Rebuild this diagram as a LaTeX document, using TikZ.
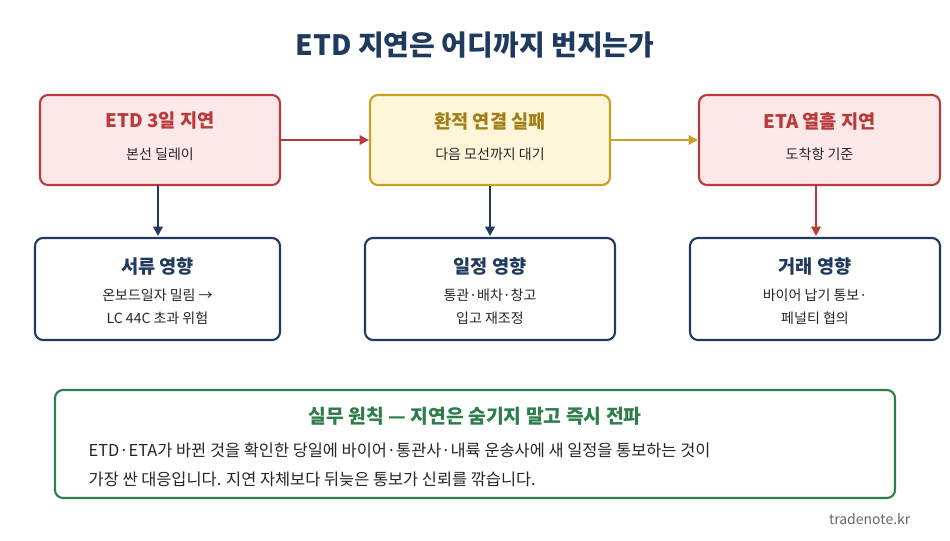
\documentclass[tikz,border=0pt]{standalone}
\usepackage{fontspec}
\setmainfont{Noto Sans CJK KR}
\usetikzlibrary{arrows.meta}
\definecolor{navy}{HTML}{1F3A5F}
\definecolor{redc}{HTML}{B83A3A}
\definecolor{redf}{HTML}{FCE8E8}
\definecolor{gold}{HTML}{C9A020}
\definecolor{goldf}{HTML}{FFF6DA}
\definecolor{greenc}{HTML}{2E7D4A}
\definecolor{greyt}{HTML}{666666}
\begin{document}
\begin{tikzpicture}[x=0.75pt,y=-0.75pt,
 box/.style={draw,line width=1.6pt,rounded corners=6pt,align=center,inner sep=0},
 ttl/.style={font=\fontsize{14}{16}\selectfont\bfseries},
 sub/.style={font=\fontsize{10.5}{17}\selectfont,text=black!85,align=center},
 arr/.style={line width=2pt,-{Triangle[length=7pt,width=7pt]}}]
\useasboundingbox (0,0) rectangle (950,540);
\node[font=\fontsize{21}{24}\selectfont\bfseries,text=navy] (t) at (475,45) {ETD 지연은 어디까지 번지는가};
% top boxes
\node[box,draw=redc,fill=redf,minimum width=240*0.75pt,minimum height=90*0.75pt] (a) at (160,140) {};
\node[ttl,text=redc] (a1) at (160,121) {ETD 3일 지연};
\node[sub] (a2) at (160,154) {본선 딜레이};
\node[box,draw=gold,fill=goldf,minimum width=240*0.75pt,minimum height=90*0.75pt] (b) at (490,140) {};
\node[ttl,text=gold!80!black] (b1) at (490,121) {환적 연결 실패};
\node[sub] (b2) at (490,154) {다음 모선까지 대기};
\node[box,draw=redc,fill=redf,minimum width=241*0.75pt,minimum height=90*0.75pt] (c) at (819.5,140) {};
\node[ttl,text=redc] (c1) at (819.5,121) {ETA 열흘 지연};
\node[sub] (c2) at (819.5,154) {도착항 기준};
% bottom boxes
\node[box,draw=navy,fill=white,minimum width=245*0.75pt,minimum height=102*0.75pt] (d) at (157.5,289) {};
\node[ttl,text=navy] (d1) at (157.5,266) {서류 영향};
\node[sub] (d2) at (157.5,307) {온보드일자 밀림 →\\LC 44C 초과 위험};
\node[box,draw=navy,fill=white,minimum width=250*0.75pt,minimum height=102*0.75pt] (e) at (490,289) {};
\node[ttl,text=navy] (e1) at (490,266) {일정 영향};
\node[sub] (e2) at (490,307) {통관·배차·창고\\입고 재조정};
\node[box,draw=navy,fill=white,minimum width=250*0.75pt,minimum height=102*0.75pt] (f) at (815,289) {};
\node[ttl,text=navy] (f1) at (815,266) {거래 영향};
\node[sub] (f2) at (815,307) {바이어 납기 통보·\\페널티 협의};
\draw[arr,redc] (a) -- (b);
\draw[arr,gold] (b) -- (c);
\draw[arr,navy] (158,185) -- (158,236);
\draw[arr,navy] (b.south) -- (490,236);
\draw[arr,redc] (816,185) -- (816,236);
% principle
\node[box,draw=greenc,fill=white,minimum width=840*0.75pt,minimum height=108*0.75pt] (g) at (475,444) {};
\node[font=\fontsize{14.5}{16}\selectfont\bfseries,text=greenc] (g1) at (475,416) {실무 원칙 — 지연은 숨기지 말고 즉시 전파};
\node[align=left,anchor=west,text=black!85,font=\fontsize{12.3}{22}\selectfont] (g2) at (84,465) {ETD·ETA가 바뀐 것을 확인한 당일에 바이어·통관사·내륙 운송사에 새 일정을 통보하는 것이\\가장 싼 대응입니다. 지연 자체보다 뒤늦은 통보가 신뢰를 깎습니다.};
\node[text=greyt,font=\fontsize{10.5}{12}\selectfont,anchor=east] (w) at (915,519) {tradenote.kr};
\end{tikzpicture}
\end{document}
